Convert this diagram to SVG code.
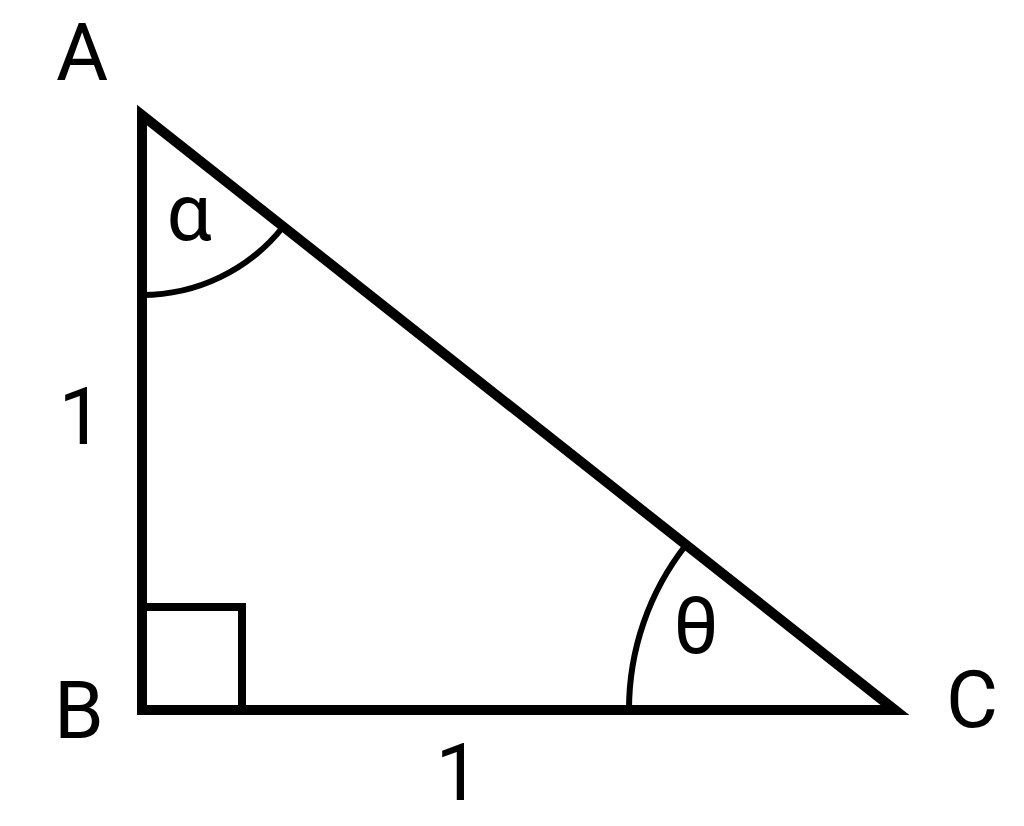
<svg xmlns="http://www.w3.org/2000/svg" width="1024" height="826" viewBox="0 0 1024 826">
<style>
.t{font-family:Roboto,"Liberation Sans",sans-serif;font-size:80px;fill:#000;text-anchor:middle}
.e{fill:none;stroke:#000;stroke-linejoin:miter;stroke-miterlimit:10}
</style>
<rect width="1024" height="826" fill="#fff"/>
<g id="triangle">
<path class="e" stroke-width="10" d="M142,115 L142,710 L895,710 Z"/>
</g>
<g id="right-angle">
<path class="e" stroke-width="8" d="M142,607 L242,607 L242,710"/>
</g>
<g id="angle-alpha">
<path class="e" stroke-width="6" d="M142,295 A180,180 0 0 0 283,227"/>
<text class="t" x="189" y="240">α</text>
</g>
<g id="angle-theta">
<path class="e" stroke-width="6" d="M629,710 A266,266 0 0 1 686,545"/>
<text class="t" x="696" y="653">θ</text>
</g>
<g id="labels">
<text class="t" x="82" y="80">A</text>
<text class="t" x="79" y="738">B</text>
<text class="t" x="972" y="727">C</text>
<text class="t" x="81" y="444">1</text>
<text class="t" x="458" y="800">1</text>
</g>
</svg>
